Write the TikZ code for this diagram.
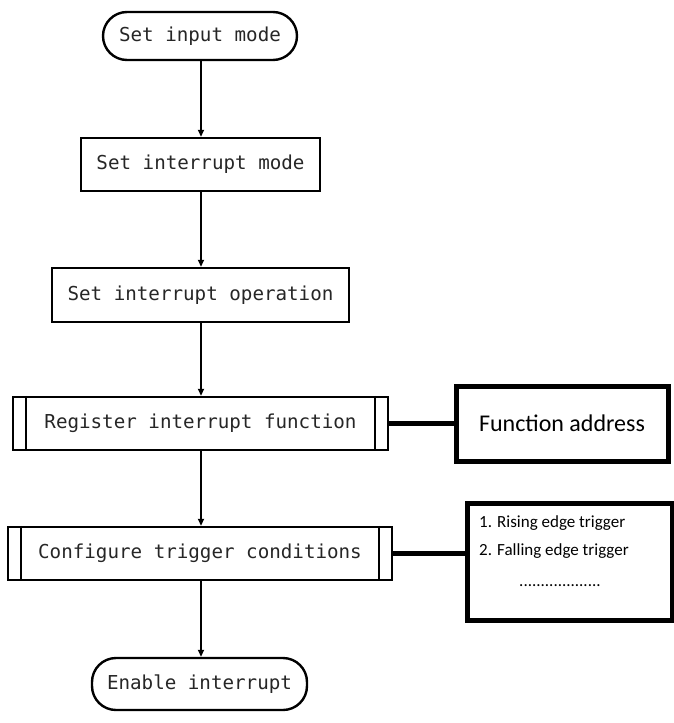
\documentclass[tikz,border=0pt]{standalone}
\usepackage{fontspec}
\setmonofont{DejaVu Sans Mono}
\newfontfamily\calib{Carlito}
\usetikzlibrary{arrows.meta}
\begin{document}
\begin{tikzpicture}[x=1pt,y=-1pt,
  flow/.style={draw=black, line width=2.4pt, inner sep=0pt, font=\ttfamily\fontsize{19.2}{21}\selectfont, text=black!85},
  term/.style={flow, rounded corners=24pt},
  proc/.style={flow},
  side/.style={draw=black, line width=5pt, inner sep=0pt},
  small/.style={inner sep=0pt, font=\calib\fontsize{17}{19}\selectfont},
  link/.style={line width=2pt, -{Triangle[length=7pt,width=6pt]}},
  tie/.style={line width=4.5pt},
  sub/.style={line width=2pt}]
\useasboundingbox (0,0) rectangle (674,723);
\node[term, minimum width=194pt, minimum height=48pt] (s) at (200,36) {Set input mode};
\node[proc, minimum width=239pt, minimum height=53pt] (m) at (200.5,164.5) {Set interrupt mode};
\node[proc, minimum width=297pt, minimum height=54pt] (o) at (200.5,295) {Set interrupt operation};
\node[proc, minimum width=375pt, minimum height=53pt] (r) at (200.5,423.5) {Register interrupt function};
\node[proc, minimum width=384pt, minimum height=53pt] (c) at (200,553.5) {Configure trigger conditions};
\node[term, minimum width=215pt, minimum height=52pt] (e) at (199.5,684) {Enable interrupt};
\draw[sub] ([xshift=14pt]r.north west) -- ([xshift=14pt]r.south west);
\draw[sub] ([xshift=-14pt]r.north east) -- ([xshift=-14pt]r.south east);
\draw[sub] ([xshift=14pt]c.north west) -- ([xshift=14pt]c.south west);
\draw[sub] ([xshift=-14pt]c.north east) -- ([xshift=-14pt]c.south east);
\node[side, minimum width=212pt, minimum height=75pt, font=\calib\fontsize{24}{26}\selectfont] (f) at (562,423.5) {Function address};
\node[side, minimum width=205pt, minimum height=117pt] (t) at (569.5,561.5) {};
\node[small, anchor=west] (t1) at (479,523) {1. Rising edge trigger};
\node[small, anchor=west] (t2) at (479,551) {2. Falling edge trigger};
\node[small] (t3) at (560,586) {...................};
\draw[link] (s.south -| 201,0) -- (m.north -| 201,0);
\draw[link] (m.south -| 201,0) -- (o.north -| 201,0);
\draw[link] (o.south -| 201,0) -- (r.north -| 201,0);
\draw[link] (r.south -| 201,0) -- (c.north -| 201,0);
\draw[link] (c.south -| 201,0) -- (e.north -| 201,0);
\draw[tie] (r.east) -- (r.east -| f.west);
\draw[tie] (c.east) -- (c.east -| t.west);
\end{tikzpicture}
\end{document}
